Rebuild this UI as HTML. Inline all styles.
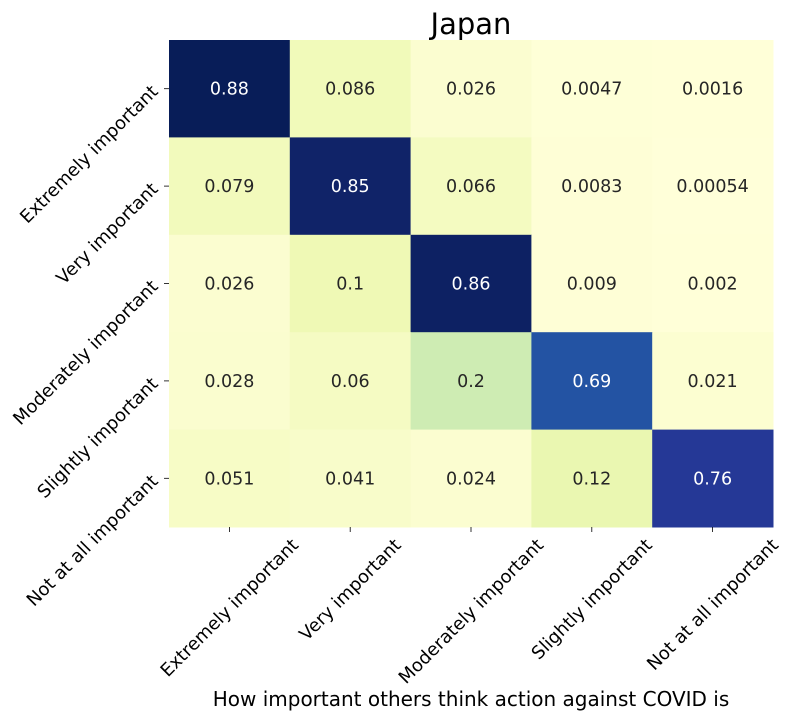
<!DOCTYPE html>
<html><head><meta charset="utf-8"><style>
body{margin:0;background:#fff;}
svg text{font-family:"DejaVu Sans","Liberation Sans",sans-serif;}
</style></head><body>
<svg id="chart" width="792" height="720" viewBox="0 0 792 720" xmlns="http://www.w3.org/2000/svg">
<text x="471" y="34" font-size="29" text-anchor="middle" fill="#000">Japan</text>
<g id="cells"></g>
<g id="xt"></g>
<g id="yt"></g>
<text x="471" y="706" font-size="20" text-anchor="middle" fill="#000">How important others think action against COVID is</text>
</svg>
<script>
const categories = ["Extremely important","Very important","Moderately important","Slightly important","Not at all important"];
const rowValues = [
  [0.88,0.086,0.026,0.0047,0.0016],
  [0.079,0.85,0.066,0.0083,0.00054],
  [0.026,0.1,0.86,0.009,0.002],
  [0.028,0.06,0.2,0.69,0.021],
  [0.051,0.041,0.024,0.12,0.76]
];
const valueLabels = [
  ["0.88","0.086","0.026","0.0047","0.0016"],
  ["0.079","0.85","0.066","0.0083","0.00054"],
  ["0.026","0.1","0.86","0.009","0.002"],
  ["0.028","0.06","0.2","0.69","0.021"],
  ["0.051","0.041","0.024","0.12","0.76"]
];
const NS="http://www.w3.org/2000/svg";
const X0=169,X1=773,Y0=40,Y1=527;
const n=categories.length;
const cw=(X1-X0)/n, ch=(Y1-Y0)/n;
const xPos=i=>X0+i*cw, yPos=j=>Y0+j*ch;
const stops=["#ffffd9","#edf8b1","#c7e9b4","#7fcdbb","#41b6c4","#1d91c0","#225ea8","#253494","#081d58"].map(h=>[1,3,5].map(k=>parseInt(h.substr(k,2),16)));
let vmax=0; rowValues.forEach(r=>r.forEach(v=>{if(v>vmax)vmax=v;}));
function cmap(v){let t=Math.max(0,Math.min(1,v/vmax))*(stops.length-1);let i=Math.min(Math.floor(t),stops.length-2);let f=t-i;
 const c=stops[i].map((a,k)=>Math.round(a+(stops[i+1][k]-a)*f));return `rgb(${c[0]},${c[1]},${c[2]})`;}
const cells=document.getElementById('cells');
rowValues.forEach((row,j)=>row.forEach((v,i)=>{
 const r=document.createElementNS(NS,'rect');
 
 
 r.setAttribute('x',xPos(i));r.setAttribute('y',yPos(j));r.setAttribute('width',cw+0.5);r.setAttribute('height',ch+0.5);r.setAttribute('fill',cmap(v));
 cells.appendChild(r);
 const t=document.createElementNS(NS,'text');
 
 
 t.setAttribute('x',xPos(i)+cw/2);t.setAttribute('y',yPos(j)+ch/2+6);t.setAttribute('text-anchor','middle');t.setAttribute('font-size','17.5');
 t.setAttribute('fill',v/vmax>0.5?'#ffffff':'#262626');t.textContent=valueLabels[j][i];cells.appendChild(t);
}));
const xt=document.getElementById('xt'), yt=document.getElementById('yt');
categories.forEach((c,i)=>{
 const cx=xPos(i)+cw/2;
 const l=document.createElementNS(NS,'line');
 
 
 l.setAttribute('x1',cx);l.setAttribute('x2',cx);l.setAttribute('y1',Y1);l.setAttribute('y2',Y1+5);l.setAttribute('stroke','#000');l.setAttribute('stroke-width','0.8');xt.appendChild(l);
 const t=document.createElementNS(NS,'text');
 
 
 t.setAttribute('font-size','18');t.setAttribute('text-anchor','middle');t.textContent=c;xt.appendChild(t);
 const L=t.getComputedTextLength();const cy=Y1+8+L*0.707/2+7;
 t.setAttribute('x',cx);t.setAttribute('y',cy+6);t.setAttribute('transform',`rotate(-45 ${cx} ${cy})`);
 const cyy=yPos(i)+ch/2;
 const l2=document.createElementNS(NS,'line');
 
 
 l2.setAttribute('x1',X0-5);l2.setAttribute('x2',X0);l2.setAttribute('y1',cyy);l2.setAttribute('y2',cyy);l2.setAttribute('stroke','#000');l2.setAttribute('stroke-width','0.8');yt.appendChild(l2);
 const t2=document.createElementNS(NS,'text');
 
 
 t2.setAttribute('font-size','18');t2.setAttribute('text-anchor','end');t2.textContent=c;
 const ax=159,ay=cyy+4;
 t2.setAttribute('x',ax);t2.setAttribute('y',ay);t2.setAttribute('transform',`rotate(-45 ${ax} ${ay})`);yt.appendChild(t2);
});
</script>
</body></html>
